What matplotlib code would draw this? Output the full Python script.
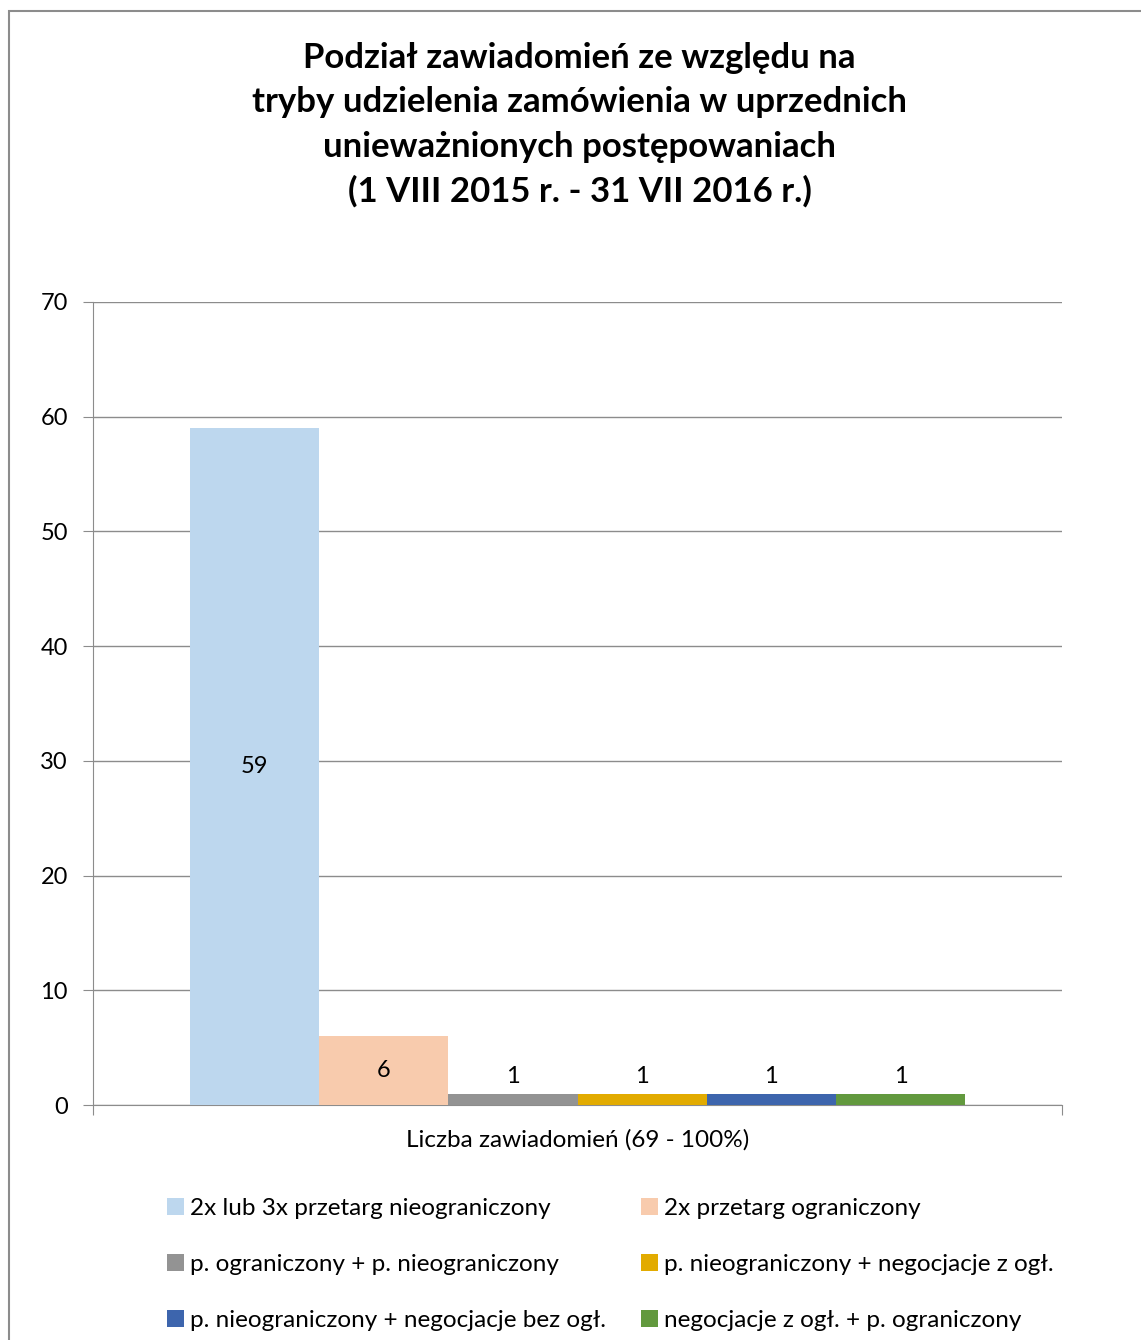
import matplotlib.pyplot as plt
import numpy as np
from matplotlib.patches import Rectangle

plt.rcParams['font.family'] = ['Lato', 'DejaVu Sans']

series = [
    "2x lub 3x przetarg nieograniczony",
    "2x przetarg ograniczony",
    "p. ograniczony + p. nieograniczony",
    "p. nieograniczony + negocjacje z ogł.",
    "p. nieograniczony + negocjacje bez ogł.",
    "negocjacje z ogł. + p. ograniczony",
]
values = [59, 6, 1, 1, 1, 1]
colors = ["#BDD7EE", "#F8CBAD", "#939393", "#E2AB00", "#3D65AD", "#62993E"]
category = "Liczba zawiadomień (69 - 100%)"
title = ("Podział zawiadomień ze względu na\n"
         "tryby udzielenia zamówienia w uprzednich\n"
         "unieważnionych postępowaniach\n"
         "(1 VIII 2015 r. - 31 VII 2016 r.)")

W, H = 1141, 1340
fig = plt.figure(figsize=(W / 100, H / 100), dpi=100)

# outer border of the chart area (runs off the right and bottom edges)
fig.patches.append(Rectangle((9 / W, -0.01), 1.1, 1 - 11 / H + 0.01,
                             transform=fig.transFigure, fill=False,
                             edgecolor="#8c8c8c", linewidth=1.5))

ax = fig.add_axes([93 / W, 1 - 1105 / H, (1062 - 93) / W, (1105 - 302) / H])

n = len(values)
bw = 0.8 / n
xs = -0.4 + bw * (np.arange(n) + 0.5)
bars = ax.bar(xs, values, width=bw, color=colors, label=series, zorder=3)

for x, v in zip(xs, values):
    if v > 3:
        ax.text(x, v / 2, str(v), ha="center", va="center", fontsize=17, zorder=4)
    else:
        ax.text(x, v + 0.55, str(v), ha="center", va="bottom", fontsize=17, zorder=4)

ax.set_xlim(-0.5, 0.5)
ax.set_ylim(0, 70)
ax.set_yticks(range(0, 71, 10))
ax.yaxis.grid(True, color="#8c8c8c", linewidth=1)
ax.set_axisbelow(True)
ax.tick_params(axis="y", labelsize=17, length=7, color="#8c8c8c", pad=11)
ax.set_xticks([-0.5, 0.5])
ax.set_xticklabels(["", ""])
ax.tick_params(axis="x", length=7, color="#8c8c8c")
for s in ["top", "right"]:
    ax.spines[s].set_visible(False)
for s in ["left", "bottom"]:
    ax.spines[s].set_color("#8c8c8c")
ax.text(0, -3.0, category, ha="center", va="center", fontsize=17.5,
        transform=ax.transData)

fig.text(0.508, 1 - 125 / H, title, ha="center", va="center", fontsize=25,
         fontweight="bold", linespacing=1.47)

# legend filled row by row, like the original
order = [0, 2, 4, 1, 3, 5]
fig.legend(handles=[bars[i] for i in order], labels=[series[i] for i in order],
           loc="upper left", bbox_to_anchor=(157 / W, 1 - 1188 / H), ncol=2,
           frameon=False, fontsize=17.5, handlelength=0.7, handleheight=0.7,
           handletextpad=0.25, columnspacing=1.45, labelspacing=1.45,
           borderaxespad=0)

fig.savefig("out.png", dpi=100)
